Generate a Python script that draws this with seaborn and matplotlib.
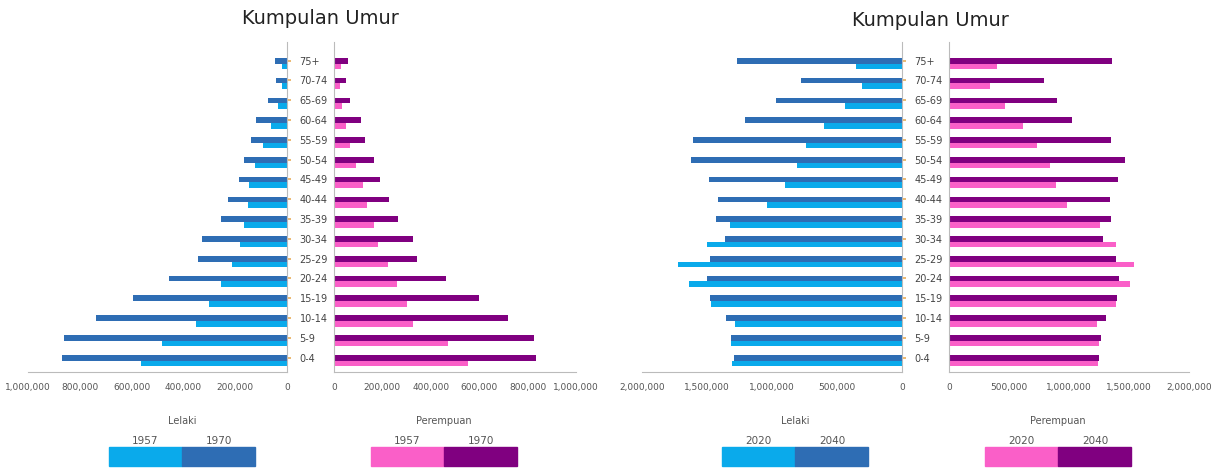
import numpy as np
import pandas as pd
import seaborn as sns
import matplotlib.pyplot as plt
from matplotlib.ticker import FuncFormatter
from matplotlib.patches import Rectangle

sns.set_theme(style="white")
plt.rcParams['font.family'] = ['DejaVu Sans']

# kumpulan umur, dari atas ke bawah
ages = ["75+", "70-74", "65-69", "60-64", "55-59", "50-54", "45-49", "40-44",
        "35-39", "30-34", "25-29", "20-24", "15-19", "10-14", "5-9", "0-4"]

# piramid kiri: 1957 dan 1970
male_1957 = [18000, 18000, 35000, 60000, 93000, 125000, 147000, 151000,
             167000, 183000, 212000, 254000, 301000, 350000, 481000, 562000]
male_1970 = [48000, 44000, 73000, 118000, 140000, 166000, 185000, 228000,
             254000, 328000, 344000, 456000, 595000, 736000, 861000, 867000]
female_1957 = [28000, 23000, 33000, 48000, 65000, 92000, 120000, 137000,
               164000, 182000, 223000, 262000, 303000, 327000, 472000, 552000]
female_1970 = [58000, 48000, 65000, 110000, 130000, 166000, 192000, 226000,
               263000, 327000, 345000, 462000, 600000, 717000, 828000, 834000]

# piramid kanan: 2020 dan 2040
male_2020 = [351000, 305000, 436000, 600000, 741000, 805000, 897000, 1036000,
             1321000, 1500000, 1723000, 1641000, 1467000, 1287000, 1318000, 1308000]
male_2040 = [1267000, 780000, 972000, 1210000, 1608000, 1621000, 1485000, 1413000,
             1428000, 1359000, 1479000, 1500000, 1474000, 1356000, 1313000, 1292000]
female_2020 = [400000, 339000, 469000, 614000, 733000, 839000, 892000, 983000,
               1261000, 1394000, 1544000, 1506000, 1392000, 1233000, 1253000, 1244000]
female_2040 = [1361000, 789000, 897000, 1025000, 1350000, 1464000, 1406000, 1339000,
               1350000, 1283000, 1389000, 1414000, 1400000, 1308000, 1267000, 1253000]

LIGHT_BLUE = "#0AAAEB"
DARK_BLUE = "#2E6DB4"
PINK = "#FA5FC8"
PURPLE = "#800080"

W, H = 1222, 469
fig = plt.figure(figsize=(W / 100, H / 100), dpi=100)


def px_axes(x0, x1, y_top, y_bot):
    return fig.add_axes([x0 / W, (H - y_bot) / H, (x1 - x0) / W, (y_bot - y_top) / H])


def long_df(a, b, ya, yb):
    return pd.DataFrame({"age": ages * 2,
                         "value": a + b,
                         "year": [ya] * len(ages) + [yb] * len(ages)})


fmt = FuncFormatter(lambda v, p: f"{int(v):,}")


def draw_side(ax, df, years, colors, xmax, step, male):
    # tahun terkini di atas, tahun lama di bawah
    sns.barplot(data=df, y="age", x="value", hue="year", orient="h", order=ages,
                hue_order=[years[1], years[0]], palette=[colors[1], colors[0]],
                width=0.57, gap=0, legend=False, ax=ax, saturation=1, linewidth=0)
    ax.set_ylim(15.58, -1.09)
    ax.set_xticks(np.arange(0, xmax + 1, step))
    ax.xaxis.set_major_formatter(fmt)
    ax.tick_params(axis="x", labelsize=6.5, labelcolor="#555555", length=0, pad=8)
    ax.set_xlabel("")
    ax.set_ylabel("")
    for s in ax.spines.values():
        s.set_color("#BBBBBB")
        s.set_linewidth(0.8)
    ax.spines["top"].set_visible(False)
    if male:
        ax.set_xlim(xmax, 0)
        ax.spines["left"].set_visible(False)
        ax.yaxis.tick_right()
        ax.set_yticks(np.arange(len(ages)) - 0.15, labels=ages)
        ax.tick_params(axis="y", labelsize=7, labelcolor="#444444", length=3,
                       color="#E8B060", pad=6, direction="out")
    else:
        ax.set_xlim(0, xmax)
        ax.spines["right"].set_visible(False)
        ax.set_yticks([])


def legend_box(cx, label, years, colors):
    fig.text(cx / W, (H - 421) / H, label, ha="center", va="center",
             fontsize=7, color="#555555")
    fig.text((cx - 37) / W, (H - 441) / H, years[0], ha="center", va="center",
             fontsize=7.5, color="#555555")
    fig.text((cx + 37) / W, (H - 441) / H, years[1], ha="center", va="center",
             fontsize=7.5, color="#555555")
    fig.patches.append(Rectangle(((cx - 73) / W, (H - 466) / H), 73 / W, 19 / H,
                                 transform=fig.transFigure, color=colors[0]))
    fig.patches.append(Rectangle((cx / W, (H - 466) / H), 73 / W, 19 / H,
                                 transform=fig.transFigure, color=colors[1]))


# piramid kiri
ax1 = px_axes(28, 287, 42, 372)
draw_side(ax1, long_df(male_1957, male_1970, "1957", "1970"), ["1957", "1970"],
          [LIGHT_BLUE, DARK_BLUE], 1000000, 200000, True)
ax2 = px_axes(334, 576, 42, 372)
draw_side(ax2, long_df(female_1957, female_1970, "1957", "1970"), ["1957", "1970"],
          [PINK, PURPLE], 1000000, 200000, False)

# piramid kanan
ax3 = px_axes(642, 902, 42, 372)
draw_side(ax3, long_df(male_2020, male_2040, "2020", "2040"), ["2020", "2040"],
          [LIGHT_BLUE, DARK_BLUE], 2000000, 500000, True)
ax4 = px_axes(949, 1189, 42, 372)
draw_side(ax4, long_df(female_2020, female_2040, "2020", "2040"), ["2020", "2040"],
          [PINK, PURPLE], 2000000, 500000, False)

fig.text(320 / W, (H - 18) / H, "Kumpulan Umur", ha="center", va="center",
         fontsize=14, color="#222222")
fig.text(930 / W, (H - 21) / H, "Kumpulan Umur", ha="center", va="center",
         fontsize=14, color="#222222")

legend_box(182, "Lelaki", ["1957", "1970"], [LIGHT_BLUE, DARK_BLUE])
legend_box(444, "Perempuan", ["1957", "1970"], [PINK, PURPLE])
legend_box(795, "Lelaki", ["2020", "2040"], [LIGHT_BLUE, DARK_BLUE])
legend_box(1058, "Perempuan", ["2020", "2040"], [PINK, PURPLE])

fig.savefig("out.png", dpi=100)
